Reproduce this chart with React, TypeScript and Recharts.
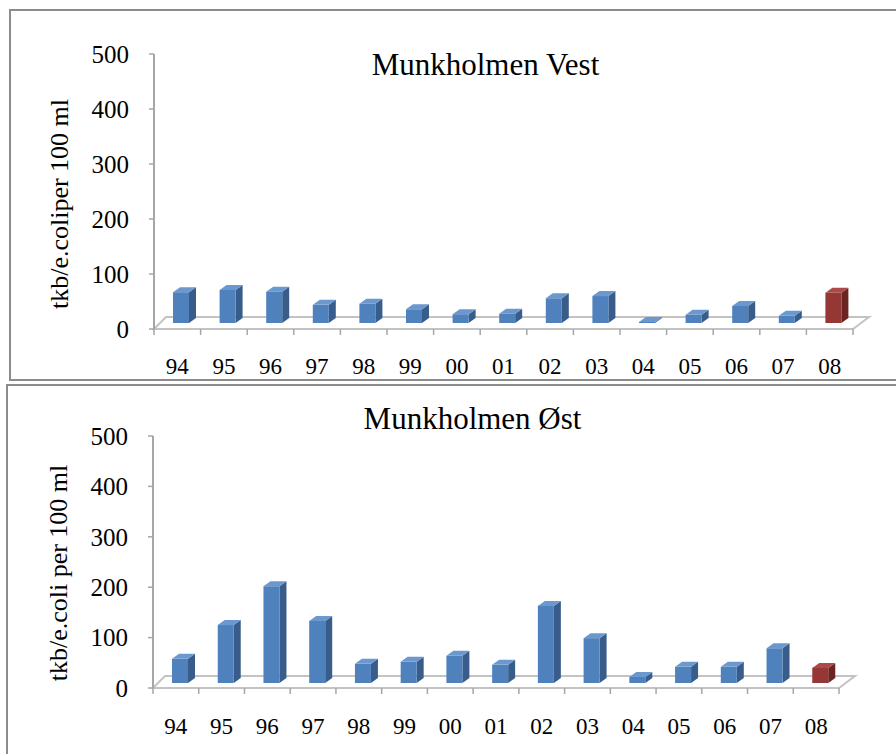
import React from 'react';
import * as R from 'recharts';

const { BarChart, Bar, XAxis, YAxis } = R as any;
const RA: any = R;

// ---------- data ----------
const years = ['94', '95', '96', '97', '98', '99', '00', '01', '02', '03', '04', '05', '06', '07', '08'];
const vestValues = [56, 60, 57, 33, 35, 25, 16, 17, 45, 49, 2, 15, 31, 13, 55];
const ostValues = [48, 115, 192, 123, 38, 42, 54, 36, 153, 89, 12, 32, 32, 69, 30];
const yTicks = [0, 100, 200, 300, 400, 500];
const titleVest = 'Munkholmen Vest';
const titleOst = 'Munkholmen Øst';
const yLabelVest = 'tkb/e.coliper 100 ml';
const yLabelOst = 'tkb/e.coli per 100 ml';

const vestData = years.map((y, i) => ({ year: y, value: vestValues[i] }));
const ostData = years.map((y, i) => ({ year: y, value: ostValues[i] }));

// ---------- style ----------
const FONT = "'Liberation Serif', 'Times New Roman', Times, serif";
const AXIS = '#a6a6a6';
const FLOOR = '#c3c3c3';
const BLUE = { front: '#4f81bd', side: '#385d8a', top: '#6a98cf' };
const RED = { front: '#953735', side: '#6a2523', top: '#ad4a47' };
const DX = 7;
const DY = 5;
const SHIFT = 4;

function makeShape(lift: number) {
  return (props: any) => {
    const { x, y, width, height, index } = props;
    const c = index === years.length - 1 ? RED : BLUE;
    const x0 = x + SHIFT;
    const base = y + height - lift;
    const top = Math.min(y - lift, base - 1);
    const w = width;
    return (
      <g>
        <polygon
          points={`${x0 + w},${top} ${x0 + w + DX},${top - DY} ${x0 + w + DX},${base - DY} ${x0 + w},${base}`}
          fill={c.side}
        />
        <rect x={x0} y={top} width={w} height={base - top} fill={c.front} />
        <polygon
          points={`${x0},${top} ${x0 + DX},${top - DY} ${x0 + w + DX},${top - DY} ${x0 + w},${top}`}
          fill={c.top}
        />
      </g>
    );
  };
}

function usePlot() {
  if (typeof RA.usePlotArea === 'function') {
    return RA.usePlotArea();
  }
  const off = RA.useOffset ? RA.useOffset() : null;
  const w = RA.useChartWidth ? RA.useChartWidth() : null;
  const h = RA.useChartHeight ? RA.useChartHeight() : null;
  if (!off || w == null || h == null) return null;
  return { x: off.left, y: off.top, width: w - off.left - off.right, height: h - off.top - off.bottom };
}

function Floor({ n }: { n: number }) {
  const pa = usePlot();
  if (!pa) return null;
  const L = pa.x;
  const Rr = pa.x + pa.width;
  const B = pa.y + pa.height;
  const band = pa.width / n;
  const ticks = [];
  for (let i = 0; i <= n; i++) {
    const tx = L + i * band;
    ticks.push(<line key={i} x1={tx} y1={B} x2={tx} y2={B + 6} stroke={AXIS} strokeWidth={1.5} />);
  }
  return (
    <g>
      <polygon
        points={`${L},${B} ${Rr},${B} ${Rr + 16},${B - 12} ${L + 12},${B - 12}`}
        fill="#ffffff"
        stroke={FLOOR}
        strokeWidth={2}
      />
      {ticks}
    </g>
  );
}

function Panel({ data, yWidth, margin, xTickMargin, lift }: any) {
  return (
    <BarChart width={896} height={margin.h} data={data} margin={{ top: margin.top, right: margin.right, bottom: margin.bottom, left: 0 }} barCategoryGap={0} style={{ fontFamily: FONT }}>
      <Floor n={years.length} />
      <XAxis
        dataKey="year"
        axisLine={false}
        tickLine={false}
        tickSize={0}
        tickMargin={xTickMargin}
        height={45}
        interval={0}
        tick={{ fill: '#000', fontSize: 23, fontFamily: FONT, style: { fontFamily: FONT } }}
      />
      <YAxis
        width={yWidth}
        domain={[0, 500]}
        ticks={yTicks}
        interval={0}
        axisLine={{ stroke: AXIS, strokeWidth: 2 }}
        tickLine={{ stroke: AXIS, strokeWidth: 1.5 }}
        tickSize={5}
        tickMargin={20}
        tick={{ fill: '#000', fontSize: 25, fontFamily: FONT, style: { fontFamily: FONT } }}
      />
      <Bar dataKey="value" barSize={16} isAnimationActive={false} shape={makeShape(lift)} />
    </BarChart>
  );
}

export default function App() {
  return (
    <div style={{ position: 'absolute', left: 0, top: 0, width: 896, height: 754, overflow: 'hidden', background: '#fff', fontFamily: FONT }}>
      <div style={{ position: 'absolute', left: 9, top: 9, width: 900, height: 368, border: '2px solid #8c8c8c' }} />
      <div style={{ position: 'absolute', left: 6, top: 384, width: 900, height: 400, border: '2px solid #8c8c8c' }} />
      <div style={{ position: 'absolute', left: 0, top: 0 }}>
        <Panel data={vestData} yWidth={154} margin={{ h: 380, top: 54, right: 43, bottom: 6 }} xTickMargin={29} lift={6} />
      </div>
      <div style={{ position: 'absolute', left: 0, top: 380 }}>
        <Panel data={ostData} yWidth={153} margin={{ h: 374, top: 56, right: 57, bottom: 21 }} xTickMargin={30} lift={5} />
      </div>
      <svg width={896} height={754} style={{ position: 'absolute', left: 0, top: 0, pointerEvents: 'none', fontFamily: FONT }}>
        <text x={485.5} y={75} textAnchor="middle" fontSize={31} fill="#000">{titleVest}</text>
        <text x={472.5} y={429} textAnchor="middle" fontSize={31} fill="#000">{titleOst}</text>
        <text x={59} y={204} textAnchor="middle" dominantBaseline="central" fontSize={26} fill="#000" transform="rotate(-90 59 204)">{yLabelVest}</text>
        <text x={58} y={573} textAnchor="middle" dominantBaseline="central" fontSize={26} fill="#000" transform="rotate(-90 58 573)">{yLabelOst}</text>
      </svg>
    </div>
  );
}
